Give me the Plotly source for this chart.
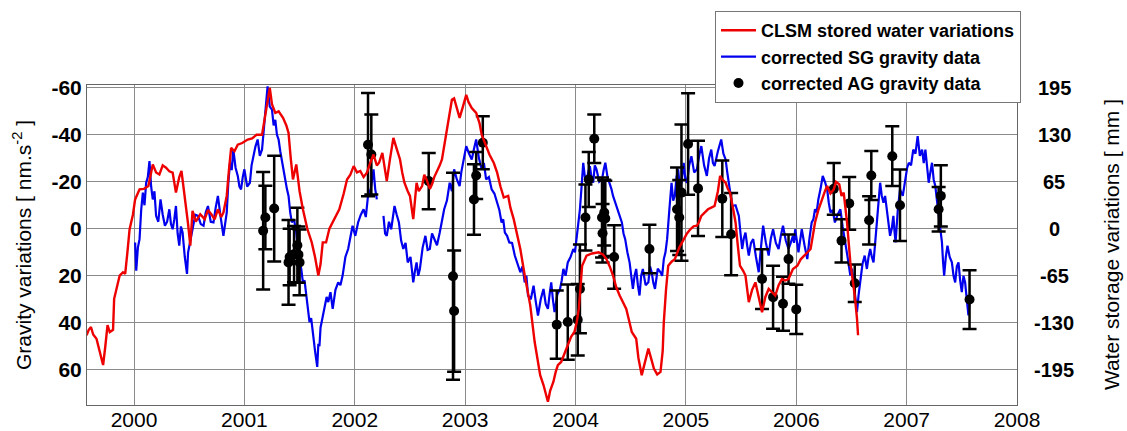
import plotly.graph_objects as go

# ---------------- data ----------------
# CLSM stored water variations, read in gravity-equivalent units (nm/s^2, positive = down)
clsm_years = [1999.57, 1999.59, 1999.61, 1999.63, 1999.66, 1999.69, 1999.72, 1999.74, 1999.76, 1999.78,
              1999.81, 1999.82, 1999.85, 1999.87, 1999.90, 1999.92, 1999.94, 1999.96, 1999.99, 2000.01,
              2000.05, 2000.09, 2000.13, 2000.17, 2000.20, 2000.23, 2000.26, 2000.29, 2000.32, 2000.35,
              2000.38, 2000.41, 2000.43, 2000.46, 2000.49, 2000.51, 2000.53, 2000.56, 2000.60, 2000.64,
              2000.67, 2000.70, 2000.73, 2000.76, 2000.79, 2000.81, 2000.84, 2000.86, 2000.88, 2000.91,
              2000.94, 2000.98, 2001.03, 2001.07, 2001.11, 2001.16, 2001.19, 2001.23, 2001.25, 2001.28,
              2001.31, 2001.35, 2001.38, 2001.40, 2001.42, 2001.44, 2001.47, 2001.50, 2001.53, 2001.57,
              2001.61, 2001.64, 2001.67, 2001.69, 2001.71, 2001.74, 2001.77, 2001.80, 2001.83, 2001.86,
              2001.90, 2001.93, 2001.96, 2001.99, 2002.02, 2002.05, 2002.08, 2002.11, 2002.14, 2002.17,
              2002.20, 2002.22, 2002.25, 2002.27, 2002.29, 2002.32, 2002.35, 2002.38, 2002.41, 2002.43,
              2002.45, 2002.48, 2002.50, 2002.53, 2002.56, 2002.58, 2002.61, 2002.63, 2002.65, 2002.68,
              2002.70, 2002.72, 2002.74, 2002.77, 2002.79, 2002.81, 2002.83, 2002.86, 2002.88, 2002.90,
              2002.92, 2002.95, 2002.98, 2003.01, 2003.03, 2003.06, 2003.10, 2003.13, 2003.15, 2003.19,
              2003.22, 2003.26, 2003.29, 2003.32, 2003.35, 2003.39, 2003.41, 2003.44, 2003.47, 2003.50,
              2003.54, 2003.59, 2003.63, 2003.66, 2003.68, 2003.71, 2003.73, 2003.75, 2003.77, 2003.80,
              2003.82, 2003.84, 2003.87, 2003.90, 2003.93, 2003.96, 2003.99, 2004.01, 2004.03, 2004.05,
              2004.06, 2004.10, 2004.15, 2004.21, 2004.25, 2004.28, 2004.31, 2004.34, 2004.37, 2004.40,
              2004.43, 2004.46, 2004.49, 2004.51, 2004.55, 2004.57, 2004.60, 2004.63, 2004.66, 2004.69,
              2004.71, 2004.74, 2004.77, 2004.79, 2004.80, 2004.82, 2004.84, 2004.87, 2004.90, 2004.94,
              2004.98, 2005.01, 2005.04, 2005.07, 2005.10, 2005.12, 2005.14, 2005.17, 2005.20, 2005.23,
              2005.26, 2005.29, 2005.31, 2005.33, 2005.36, 2005.38, 2005.40, 2005.43, 2005.45, 2005.47,
              2005.49, 2005.52, 2005.54, 2005.57, 2005.60, 2005.63, 2005.66, 2005.69, 2005.72, 2005.75,
              2005.78, 2005.81, 2005.84, 2005.87, 2005.90, 2005.93, 2005.97, 2006.01, 2006.04, 2006.07,
              2006.10, 2006.13, 2006.15, 2006.17, 2006.20, 2006.23, 2006.26, 2006.28, 2006.31, 2006.34,
              2006.36, 2006.39, 2006.41, 2006.43, 2006.46, 2006.49, 2006.53, 2006.55, 2006.56]
clsm_grav_equiv = [45.3, 43, 41.8, 45, 46.8, 52, 58, 50, 41, 44,
                   43, 29.8, 24, 19.9, 18.5, 19.2, 10, 0.2, -6, -12.5,
                   -16.8, -17, -18.2, -27.4, -24, -23.1, -27, -26, -24.5, -23.9,
                   -15.4, -22, -24.6, -14, -2, 7.2, -7.6, -3, -6.2, -4.1,
                   -8, -6.2, -4, -8.3, -5, -6.9, -14, -25, -34.4, -33,
                   -35.8, -36.5, -38, -38.5, -40, -40, -48, -60, -53, -49.3,
                   -50, -47.2, -44, -40.8, -30, -21, -27.4, -16, -8.3, 0,
                   5.8, 12, 19.9, 15, 5.8, 5.8, 0, -2.7, -6, -8.3,
                   -15, -21, -23, -26.7, -24, -24.6, -22, -23.9, -28, -31.6,
                   -27, -28.1, -32.3, -26, -20.3, -30, -38.7, -34, -29.5, -24,
                   -19.6, -16, -14, -4.1, -19.6, -16, -18.2, -23, -21, -17,
                   -18.9, -22, -23.9, -27, -29.5, -35, -40.8, -49, -54.9, -55.5,
                   -52.1, -47.2, -52, -57, -54, -51.4, -49.3, -45, -40.1, -35,
                   -31.6, -28, -23.9, -18, -13.3, -14, -9, -4.1, 2, 8.6,
                   19.9, 32.6, 48.2, 56, 62.3, 66.5, 70, 73.6, 69, 65.1,
                   61, 58, 56.7, 53, 49.6, 46, 43.9, 40, 34.1, 22,
                   15.7, 11.4, 10.5, 10, 11, 12.9, 16, 19.9, 25, 28.4,
                   31, 34.1, 40, 43.9, 46.8, 55, 62.3, 56, 51, 56,
                   59.5, 62, 60.9, 52, 39.7, 26, 15.7, 14, 12.9, 8,
                   4.4, 2, 0.2, -1, -1.3, -3, -5.5, -7, -8.3, -9,
                   -9.7, -16, -22.5, -21, -19.6, -17, -15.4, -8, -2.7, 7,
                   15.7, 18, 19.9, 31.2, 26, 22.8, 29, 35.5, 29, 25.6,
                   27, 28.4, 24, 21.4, 22, 21.4, 17.1, 15.7, 13, 11.4,
                   10, 8.6, 3, -2.7, -8, -12.5, -16, -18.2, -15, -16.8,
                   -20, -18.9, -14, -15.4, -2.7, 14.3, 28.4, 38, 45.3]

# corrected SG gravity data (nm/s^2), one list pair per year; None marks the data gap
sg_years_2000 = [2000.01, 2000.015, 2000.02, 2000.035, 2000.05, 2000.065, 2000.08, 2000.095, 2000.11, 2000.125,
                 2000.14, 2000.155, 2000.17, 2000.185, 2000.20, 2000.22, 2000.24, 2000.26, 2000.28, 2000.30,
                 2000.32, 2000.335, 2000.35, 2000.365, 2000.38, 2000.395, 2000.41, 2000.425, 2000.44, 2000.46,
                 2000.48, 2000.49, 2000.50, 2000.515, 2000.53, 2000.555, 2000.58, 2000.605, 2000.63, 2000.65,
                 2000.67, 2000.695, 2000.72, 2000.74, 2000.76, 2000.785, 2000.81, 2000.825, 2000.84, 2000.855,
                 2000.87, 2000.885, 2000.90, 2000.92, 2000.94, 2000.955, 2000.97, 2000.985]
sg_grav_2000 = [5.8, 12, 17.8, 8, 4.4, -8, -15.4, -10, -19.6, -22,
                -28.8, -18, -12.5, -16, -5.5, -3, -12.5, -6, -1.3, -3,
                -8.3, -2, 0.2, -4, -9.7, 2, 7.2, -1, 1.6, 12,
                19.2, 10, 7.2, 3, 0.2, -6, -5.5, -2, -1.3, -7,
                -9.7, -3, -2.7, -9, -14, -5, 3, -2, -6.9, -20,
                -28.1, -25, -33.7, -26, -22.5, -18, -16.8, -22]
sg_years_2001 = [2001.00, 2001.025, 2001.05, 2001.065, 2001.08, 2001.10, 2001.12, 2001.14, 2001.16, 2001.175,
                 2001.19, 2001.20, 2001.21, 2001.23, 2001.25, 2001.265, 2001.28, 2001.295, 2001.31, 2001.325,
                 2001.34, 2001.355, 2001.37, 2001.385, 2001.40, 2001.415, 2001.43, 2001.45, 2001.47, 2001.485,
                 2001.50, 2001.515, 2001.53, 2001.545, 2001.56, 2001.575, 2001.59, 2001.605, 2001.62, 2001.64,
                 2001.66, 2001.67, 2001.68, 2001.69, 2001.70, 2001.715, 2001.73, 2001.745, 2001.76, 2001.78,
                 2001.80, 2001.825, 2001.85, 2001.87, 2001.89, 2001.915, 2001.94, 2001.96, 2001.98]
sg_grav_2001 = [-25.3, -18, -19.6, -27, -30.9, -35, -38, -31, -33.7, -42,
                -47.9, -55, -60.6, -52, -50.7, -44, -46.4, -40, -38, -33,
                -29.5, -26, -21, -17, -14, -7, -2.7, -4, 1.6, 9,
                14.3, 17, 22.8, 22, 28.4, 33, 39.7, 38, 45.3, 52,
                58.8, 49, 50, 42, 39.7, 36, 34, 29, 31.2, 27,
                34.1, 26, 22.8, 24, 19.9, 12, 8.6, 4, -1.3]
sg_years_2002 = [2002.005, 2002.03, 2002.055, 2002.08, 2002.10, 2002.12, 2002.145, 2002.17, 2002.185, 2002.20,
                 2002.23, 2002.26, 2002.275, 2002.29, 2002.31, 2002.33, 2002.345, 2002.36, 2002.38, 2002.40,
                 2002.42, 2002.44, 2002.46, 2002.48, 2002.505, 2002.53, 2002.545, 2002.56, 2002.575, 2002.59,
                 2002.615, 2002.64, 2002.66, 2002.68, 2002.70, 2002.72, 2002.745, 2002.77, 2002.79, 2002.81,
                 2002.835, 2002.86, 2002.88, 2002.90, 2002.925, 2002.95, 2002.965, 2002.98, 2002.995]
sg_grav_2002 = [3, -2.7, -6, -8.3, -5, -14, -17, -25.3, -17, -12.5,
                None, -5.5, 2, 3, -3, 0.2, -5, -9.7, -6, -2.7,
                5, 8.6, 6, 14.3, 12, 22.8, 18, 14.3, 20, 17.1,
                8, 3, 9, 8.6, 2, 4.4, 7, 1.6, -3, -8.3,
                -12, -19.6, -16, -25.3, -21, -18.2, -24, -28.1, -31]
sg_years_2003 = [2003.01, 2003.035, 2003.06, 2003.08, 2003.10, 2003.125, 2003.15, 2003.17, 2003.19, 2003.215,
                 2003.24, 2003.265, 2003.29, 2003.31, 2003.33, 2003.345, 2003.36, 2003.38, 2003.40, 2003.425,
                 2003.45, 2003.475, 2003.50, 2003.52, 2003.54, 2003.555, 2003.57, 2003.595, 2003.62, 2003.64,
                 2003.66, 2003.685, 2003.71, 2003.73, 2003.75, 2003.765, 2003.78, 2003.795, 2003.81, 2003.835,
                 2003.86, 2003.875, 2003.89, 2003.91, 2003.93, 2003.955, 2003.98, 2003.995]
sg_grav_2003 = [-35.2, -32, -29.5, -34, -38, -30, -25.3, -28, -21, -22,
                -16.8, -15, -11.1, -8, -2.7, -4, 1.6, 3, 5.8, 6,
                11.4, 15, 18.5, 16, 22.8, 20, 28.4, 30, 24.2, 31,
                36.9, 30, 25.6, 32, 34.1, 28, 22.8, 30, 35.5, 28,
                25.6, 22, 17.1, 20, 14.3, 12, 8.6, 10]
sg_years_2004 = [2004.01, 2004.025, 2004.04, 2004.055, 2004.07, 2004.085, 2004.10, 2004.115, 2004.13, 2004.145,
                 2004.16, 2004.175, 2004.19, 2004.215, 2004.24, 2004.255, 2004.27, 2004.29, 2004.31, 2004.325,
                 2004.34, 2004.355, 2004.37, 2004.395, 2004.42, 2004.435, 2004.45, 2004.47, 2004.49, 2004.505,
                 2004.52, 2004.535, 2004.55, 2004.565, 2004.58, 2004.595, 2004.61, 2004.635, 2004.66, 2004.675,
                 2004.69, 2004.705, 2004.72, 2004.745, 2004.77, 2004.785, 2004.80, 2004.815, 2004.83, 2004.85,
                 2004.87, 2004.885, 2004.90, 2004.915, 2004.93, 2004.945, 2004.96, 2004.97, 2004.98, 2004.995]
sg_grav_2004 = [4.4, -2, -8.3, -18, -28.1, -22, -19.6, -24, -26.7, -22,
                -19.6, -27, -25.3, -20, -21, -25, -28.1, -22, -19.6, -17,
                -14, -12, -9.7, -6, -2.7, 2, 4.4, 10, 14.3, 20,
                25.6, 20, 17.1, 24, 28.4, 20, 17.1, 24, 22.8, 16,
                18.5, 23, 25.6, 17, 18.5, 20, 12.9, 10, 4.4, -8,
                -19.6, -12, -14, -22, -25.3, -18, -19.6, -24, -28.1, -21]
sg_years_2005 = [2005.01, 2005.03, 2005.05, 2005.075, 2005.10, 2005.12, 2005.14, 2005.165, 2005.19, 2005.21,
                 2005.23, 2005.245, 2005.26, 2005.29, 2005.32, 2005.34, 2005.36, 2005.375, 2005.39, 2005.405,
                 2005.42, 2005.45, 2005.48, 2005.495, 2005.51, 2005.525, 2005.54, 2005.555, 2005.57, 2005.59,
                 2005.61, 2005.635, 2005.66, 2005.68, 2005.70, 2005.725, 2005.75, 2005.77, 2005.79, 2005.815,
                 2005.84, 2005.86, 2005.88, 2005.905, 2005.93, 2005.95, 2005.97, 2005.98, 2005.99]
sg_grav_2005 = [-19.6, -27, -30.9, -24, -25.3, -31, -35.2, -27, -22.5, -30,
                -33.7, -28, -26.7, -33, -38, -32, -29.5, -24, -19.6, -14,
                -9.7, -10, -5.5, 2, 8.6, 4, 1.6, 7, 11.4, 6,
                4.4, 12, 18.5, 8, -1.3, 6, 11.4, 4, 0.2, 6,
                8.6, 3, -1.3, 5, 8.6, 6, 3, 6, 0.2]
sg_years_2006 = [2006.005, 2006.02, 2006.035, 2006.05, 2006.075, 2006.10, 2006.12, 2006.14, 2006.155, 2006.17,
                 2006.185, 2006.20, 2006.22, 2006.24, 2006.26, 2006.28, 2006.295, 2006.31, 2006.33, 2006.35,
                 2006.375, 2006.40, 2006.42, 2006.44, 2006.465, 2006.49, 2006.505, 2006.52, 2006.535, 2006.55,
                 2006.565, 2006.58, 2006.60, 2006.62, 2006.63, 2006.64, 2006.655, 2006.67, 2006.685, 2006.70,
                 2006.715, 2006.73, 2006.745, 2006.76, 2006.775, 2006.79, 2006.805, 2006.82, 2006.835, 2006.85,
                 2006.865, 2006.88, 2006.89, 2006.90, 2006.92, 2006.94, 2006.965, 2006.99]
sg_grav_2006 = [5, 10, 5, 0.2, 7, 12.9, 4, -2.7, -4, -8.3,
                -7, -12.5, -17, -22.5, -20, -16.8, -11, -6.9, -8, -2.7,
                -6, -8.3, -1, 5.8, 12, 19.9, 17, 22.8, 30, 35.5,
                28, 22.8, 15, 11.4, 15, 17.1, 12, 8.6, 12, 14.3,
                6, -2.7, -12, -19.6, -14, -11.1, -14, -8.3, -3, 3,
                0, -5.5, 1, 5.8, -8, -16.8, -14, -21]
sg_years_2007 = [2007.005, 2007.02, 2007.04, 2007.06, 2007.08, 2007.10, 2007.12, 2007.14, 2007.155, 2007.17,
                 2007.185, 2007.20, 2007.215, 2007.23, 2007.245, 2007.26, 2007.275, 2007.29, 2007.305, 2007.32,
                 2007.33, 2007.34, 2007.355, 2007.37, 2007.39, 2007.41, 2007.425, 2007.44, 2007.455, 2007.47,
                 2007.485, 2007.50, 2007.515, 2007.53, 2007.545, 2007.56, 2007.57, 2007.58]
sg_grav_2007 = [-26, -28.1, -27, -33.7, -32, -39.4, -31, -33.7, -28, -33.7,
                -25, -19.6, -24, -28.1, -21, -18.2, -12, -5.5, -1, 5.8,
                14, 19.9, 12, 7.2, 12, 14.3, 20, 22.8, 16, 14.3,
                22, 27, 20, 22.8, 30, 36.9, 30, 28.4]

# corrected AG gravity data (nm/s^2) with their uncertainties
ag_years = [2001.17, 2001.19, 2001.27, 2001.40, 2001.41, 2001.45, 2001.48, 2001.49, 2001.50,
            2002.12, 2002.15, 2002.67, 2002.89, 2002.90, 2003.08, 2003.10, 2003.16,
            2003.83, 2003.93, 2004.02, 2004.04, 2004.09, 2004.12, 2004.17, 2004.24, 2004.245,
            2004.26, 2004.27, 2004.35, 2004.67, 2004.92, 2004.94, 2004.96, 2005.02, 2005.11,
            2005.33, 2005.41, 2005.69, 2005.79, 2005.88, 2005.93, 2006.00, 2006.34, 2006.41,
            2006.48, 2006.53, 2006.66, 2006.68, 2006.87, 2006.94, 2007.29, 2007.31, 2007.57]
ag_grav = [0.8, -4.8, -8.6, 14.3, 12, 10.8, 7, 11, 14.3,
           -35.8, -31.6, -20.3, 20.2, 35, -12.5, -22.7, -36.6,
           40.8, 39.7, 38.7, 25.6, -4.8, -21, -38.3, -4.8, 1.9,
           -6.9, -4.4, 12, 8.6, -8.3, -4.8, -15.4, -36.1, -17.2,
           -12.8, 2.3, 21.4, 29.1, 31.9, 12.9, 34.3, -17, 5.1,
           -10.8, 23.2, -3.6, -22.7, -30.9, -10, -8.3, -14, 30.1]
ag_err = [25, 13.5, 22.5, 18, 12, 12, 16, 12, 14,
          22, 17, 12, 44, 25.8, 15, 10, 11.3,
          14.5, 16, 15.2, 18.9, 14, 11.7, 10.3, 17, 12.5,
          14, 16, 13.5, 10.3, 17.8, 16, 29, 21.6, 20.3,
          16.3, 17.5, 12.7, 13.4, 11.5, 10.5, 10.5, 11, 9.2,
          11.2, 8, 10.3, 10.4, 12.7, 15.2, 9.5, 13, 12.5]

x_ticks = [2000, 2001, 2002, 2003, 2004, 2005, 2006, 2007, 2008]
grav_ticks = [-60, -40, -20, 0, 20, 40, 60]
water_ticks = [195, 130, 65, 0, -65, -130, -195]

sg_years = (sg_years_2000 + sg_years_2001 + sg_years_2002 + sg_years_2003
            + sg_years_2004 + sg_years_2005 + sg_years_2006 + sg_years_2007)
sg_grav = (sg_grav_2000 + sg_grav_2001 + sg_grav_2002 + sg_grav_2003
           + sg_grav_2004 + sg_grav_2005 + sg_grav_2006 + sg_grav_2007)

# 60 nm/s^2 of gravity corresponds to 195 mm of water on the right axis
MM_PER_NMS2 = -195 / 60
clsm_mm = [g * MM_PER_NMS2 for g in clsm_grav_equiv]
grav_range = [75, -61.2]
water_range = [grav_range[0] * MM_PER_NMS2, grav_range[1] * MM_PER_NMS2]

FONT = "Liberation Sans, Arial, Helvetica, sans-serif"
W, H = 1127, 431
ML, MR, MT, MB = 87, 110, 85, 26
PW = W - ML - MR

fig = go.Figure()

fig.add_trace(go.Scatter(
    x=sg_years, y=sg_grav, mode="lines", name="corrected SG gravity data",
    line=dict(color="#0000ee", width=2.2), connectgaps=False, legendrank=2, yaxis="y"))

fig.add_trace(go.Scatter(
    x=clsm_years, y=clsm_mm, mode="lines", name="CLSM stored water variations",
    line=dict(color="#ee0000", width=2.4), legendrank=1, yaxis="y2"))

fig.add_trace(go.Scatter(
    x=ag_years, y=ag_grav, mode="markers", name="corrected AG gravity data",
    marker=dict(color="black", size=10),
    error_y=dict(type="data", array=ag_err, visible=True, color="black", thickness=2.5, width=7),
    legendrank=3, yaxis="y"))

# right-axis tick labels, centred like the reference
for v in water_ticks:
    fig.add_annotation(
        x=(1054 - ML) / PW, xref="paper", y=v, yref="y2",
        text=str(v), showarrow=False, xanchor="center", yanchor="middle",
        font=dict(family=FONT, size=20, weight="bold", color="black"))

# right-axis title
fig.add_annotation(
    x=(1111 - ML) / PW, xref="paper", y=0.5, yref="paper",
    text="Water storage variations [ mm ]", textangle=-90, showarrow=False,
    xanchor="center", yanchor="middle", font=dict(family=FONT, size=21, color="black"))

fig.update_layout(
    width=W, height=H,
    margin=dict(l=ML, r=MR, t=MT, b=MB, autoexpand=False),
    paper_bgcolor="white", plot_bgcolor="white",
    font=dict(family=FONT, color="black"),
    showlegend=True,
    legend=dict(
        xref="container", yref="container",
        x=1021 / W, xanchor="right", y=1 - 11 / H, yanchor="top",
        bgcolor="white", bordercolor="#777777", borderwidth=1,
        font=dict(family=FONT, size=18, weight="bold", color="black"),
        tracegroupgap=0, itemwidth=35,
    ),
    xaxis=dict(
        range=[1999.574, 2008.0], tickvals=x_ticks, ticktext=[str(t) for t in x_ticks],
        showgrid=True, gridcolor="#8a8a8a", gridwidth=1, automargin=False,
        showline=True, linecolor="#666666", linewidth=1, mirror=True,
        ticks="", ticklabelstandoff=-4, tickfont=dict(family=FONT, size=21), zeroline=False,
    ),
    yaxis=dict(
        range=grav_range, tickvals=grav_ticks, ticktext=[str(t) for t in grav_ticks],
        showgrid=True, gridcolor="#8a8a8a", gridwidth=1, zeroline=False, automargin=False,
        showline=True, linecolor="#666666", linewidth=1, mirror=True,
        ticks="", tickfont=dict(family=FONT, size=21, weight="bold"),
        title=dict(text="Gravity variations [ nm.s<sup>-2</sup> ]", font=dict(family=FONT, size=21), standoff=14),
    ),
    yaxis2=dict(
        range=water_range, overlaying="y", side="right",
        showticklabels=False, showgrid=False, zeroline=False, showline=False,
        automargin=False, ticks="",
    ),
)

# the page body gets no default margin so the figure fills the window from its corner
fig.write_html("out.html", config={"displayModeBar": False},
               post_script="document.body.style.margin='0px';")
